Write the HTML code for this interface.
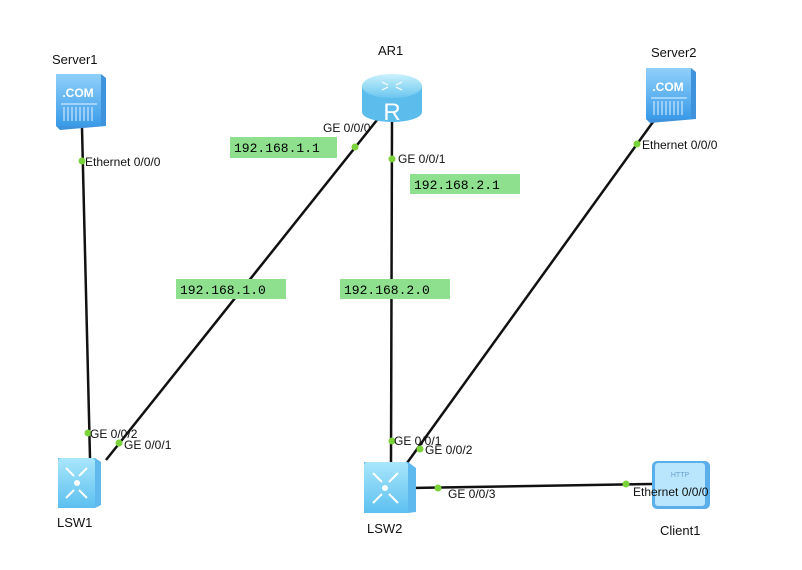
<!DOCTYPE html>
<html><head><style>
body{margin:0;background:#fff;width:802px;height:565px;overflow:hidden;font-family:"Liberation Sans",sans-serif;}
svg text{font-family:"Liberation Sans",sans-serif;}
.ip{font-family:"Liberation Mono",monospace;font-size:13px;}
</style></head><body>
<svg width="802" height="565" viewBox="0 0 802 565" xmlns="http://www.w3.org/2000/svg">
<defs>
<linearGradient id="srv" x1="0" y1="0" x2="0" y2="1"><stop offset="0" stop-color="#8fd0fb"/><stop offset="1" stop-color="#3a9be8"/></linearGradient>
<linearGradient id="sw" x1="0" y1="0" x2="0" y2="1"><stop offset="0" stop-color="#a9e6fb"/><stop offset="1" stop-color="#5cc0f0"/></linearGradient>
<linearGradient id="rt" x1="0" y1="0" x2="0" y2="1"><stop offset="0" stop-color="#c9f1fd"/><stop offset="1" stop-color="#6cc6ef"/></linearGradient>
</defs>
<g stroke="#111" stroke-width="2.5" fill="none">
<line x1="82" y1="128" x2="90" y2="458"/>
<line x1="377" y1="120" x2="106" y2="460"/>
<line x1="392" y1="122" x2="391" y2="462"/>
<line x1="658" y1="115" x2="407" y2="463"/>
<line x1="410" y1="488" x2="652" y2="484"/>
</g>
<g>
<polygon points="56,76 101,74 106,78 106,126 60,130 56,126" fill="#3f93dc"/>
<rect x="56" y="74" width="45" height="52" fill="url(#srv)"/>
<text x="78" y="97" font-size="12" font-weight="bold" fill="#fff" text-anchor="middle">.COM</text>
<g stroke="#e6f4ff" stroke-width="1"><line x1="61" y1="104" x2="97" y2="104"/><line x1="64" y1="107" x2="64" y2="121"/><line x1="68" y1="107" x2="68" y2="121"/><line x1="72" y1="107" x2="72" y2="121"/><line x1="76" y1="107" x2="76" y2="121"/><line x1="80" y1="107" x2="80" y2="121"/><line x1="84" y1="107" x2="84" y2="121"/><line x1="88" y1="107" x2="88" y2="121"/><line x1="92" y1="107" x2="92" y2="121"/></g>
</g>
<g>
<polygon points="646,70 691,68 696,72 696,119 650,123 646,119" fill="#3f93dc"/>
<rect x="646" y="68" width="45" height="51" fill="url(#srv)"/>
<text x="668" y="91" font-size="12" font-weight="bold" fill="#fff" text-anchor="middle">.COM</text>
<g stroke="#e6f4ff" stroke-width="1"><line x1="651" y1="98" x2="687" y2="98"/><line x1="654" y1="101" x2="654" y2="115"/><line x1="658" y1="101" x2="658" y2="115"/><line x1="662" y1="101" x2="662" y2="115"/><line x1="666" y1="101" x2="666" y2="115"/><line x1="670" y1="101" x2="670" y2="115"/><line x1="674" y1="101" x2="674" y2="115"/><line x1="678" y1="101" x2="678" y2="115"/><line x1="682" y1="101" x2="682" y2="115"/></g>
</g>
<g>
<path d="M362,86 L362,112 A30,10 0 0 0 422,112 L422,86 Z" fill="#5cbdec"/>
<ellipse cx="392" cy="86" rx="30" ry="12" fill="url(#rt)"/>
<text x="392" y="120" font-size="24" fill="#fff" text-anchor="middle">R</text>
<g stroke="#fff" stroke-width="1.2" fill="none"><path d="M382,82 l6,3 M402,82 l-6,3 M382,90 l6,-3 M402,90 l-6,-3"/></g>
</g>
<g>
<polygon points="58,458 95,458 101,462 101,505 95,508 58,508" fill="#5fb8ee"/>
<rect x="58" y="458" width="37" height="50" rx="3" fill="url(#sw)"/>
<g stroke="#fff" stroke-width="2" fill="none"><path d="M66,468 l8,8 M87,468 l-8,8 M66,498 l8,-8 M87,498 l-8,-8"/></g>
<circle cx="77" cy="483" r="3" fill="#fff"/>
</g>
<g>
<polygon points="364,462 408,462 416,468 416,512 408,513 364,513" fill="#5fb8ee"/>
<rect x="364" y="462" width="44" height="51" rx="3" fill="url(#sw)"/>
<g stroke="#fff" stroke-width="2" fill="none"><path d="M373,473 l9,9 M398,473 l-9,9 M373,503 l9,-9 M398,503 l-9,-9"/></g>
<circle cx="385" cy="488" r="3" fill="#fff"/>
</g>
<g>
<rect x="652" y="461" width="58" height="48" rx="5" fill="#5aaeea"/>
<rect x="655" y="463" width="50" height="43" rx="3" fill="#b9e6fc"/>
<text x="680" y="477" font-size="7" fill="#6a9fd0" text-anchor="middle">HTTP</text>
</g>
<g fill="#7ad33a">
<circle cx="82" cy="161" r="3.5"/><circle cx="355" cy="147" r="3.5"/><circle cx="392" cy="159" r="3.5"/><circle cx="637" cy="144" r="3.5"/>
<circle cx="88" cy="433" r="3.5"/><circle cx="119" cy="443" r="3.5"/><circle cx="392" cy="441" r="3.5"/><circle cx="420" cy="449" r="3.5"/>
<circle cx="438" cy="488" r="3.5"/><circle cx="626" cy="484" r="3.5"/>
</g>
<g font-size="12" fill="#111">
<text x="85" y="166">Ethernet 0/0/0</text>
<text x="323" y="132">GE 0/0/0</text>
<text x="398" y="163">GE 0/0/1</text>
<text x="642" y="149">Ethernet 0/0/0</text>
<text x="90" y="438">GE 0/0/2</text>
<text x="124" y="449">GE 0/0/1</text>
<text x="394" y="445">GE 0/0/1</text>
<text x="425" y="454">GE 0/0/2</text>
<text x="448" y="498">GE 0/0/3</text>
<text x="633" y="496">Ethernet 0/0/0</text>
</g>
<g font-size="13" fill="#111">
<text x="52" y="64">Server1</text>
<text x="378" y="55">AR1</text>
<text x="651" y="57">Server2</text>
<text x="57" y="527">LSW1</text>
<text x="367" y="533">LSW2</text>
<text x="660" y="535">Client1</text>
</g>
<rect x="230" y="137" width="107" height="21" fill="#8ee08e"/>
<text class="ip" x="234" y="152">192.168.1.1</text>
<rect x="410" y="174" width="110" height="20" fill="#8ee08e"/>
<text class="ip" x="414" y="189">192.168.2.1</text>
<rect x="176" y="279" width="110" height="20" fill="#8ee08e"/>
<text class="ip" x="180" y="294">192.168.1.0</text>
<rect x="340" y="279" width="110" height="20" fill="#8ee08e"/>
<text class="ip" x="344" y="294">192.168.2.0</text>
</svg>
</body></html>
